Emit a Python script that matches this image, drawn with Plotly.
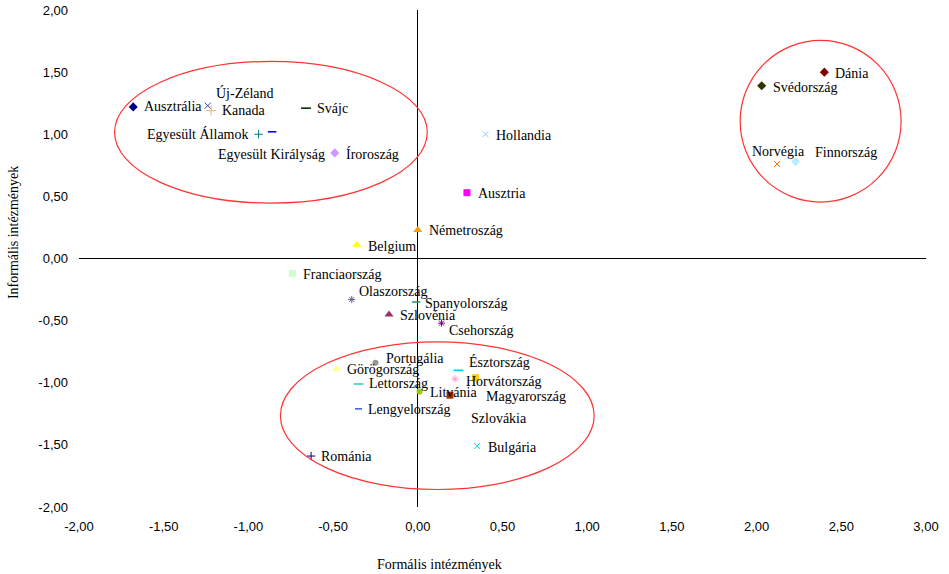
import plotly.graph_objects as go

# ---- data ----
countries = ["Ausztrália", "Új-Zéland", "Kanada", "Svájc", "Egyesült Államok",
             "Egyesült Királyság", "Íroroszág", "Dánia", "Svédország", "Norvégia",
             "Finnország", "Hollandia", "Ausztria", "Németroszág", "Belgium",
             "Franciaország", "Olaszország", "Spanyolország", "Szlovénia", "Csehország",
             "Portugália", "Görögország", "Lettország", "Litvánia", "Lengyelország",
             "Románia", "Észtország", "Horvátország", "Szlovákia", "Magyarország",
             "Bulgária"]
formal = [-1.68, -1.24, -1.22, -0.66, -0.94,
          -0.86, -0.49, 2.40, 2.03, 2.12,
          2.23, 0.40, 0.29, 0.00, -0.36,
          -0.74, -0.39, -0.01, -0.17, 0.14,
          -0.25, -0.48, -0.35, 0.01, -0.35,
          -0.63, 0.24, 0.22, 0.34, 0.19,
          0.35]
informal = [1.22, 1.23, 1.19, 1.21, 1.00,
            1.02, 0.85, 1.50, 1.39, 0.76,
            0.78, 1.00, 0.53, 0.23, 0.11,
            -0.12, -0.33, -0.35, -0.45, -0.52,
            -0.84, -0.89, -1.01, -1.07, -1.21,
            -1.59, -0.90, -0.97, -0.96, -1.10,
            -1.51]
x_ticks = [-2.0, -1.5, -1.0, -0.5, 0.0, 0.5, 1.0, 1.5, 2.0, 2.5, 3.0]
y_ticks = [-2.0, -1.5, -1.0, -0.5, 0.0, 0.5, 1.0, 1.5, 2.0]
x_title = "Formális intézmények"
y_title = "Informális intézmények"


def fmt(v):
    return f"{v:.2f}".replace(".", ",")


x_ticktext = [fmt(v) for v in x_ticks]
y_ticktext = [fmt(v) for v in y_ticks]

# ---- styles: symbol, colour, size ----
styles = {
    "Ausztrália": ("diamond", "#000080", 7),
    "Új-Zéland": ("x-thin-open", "#4040a0", 6),
    "Kanada": ("cross-thin-open", "#f0b070", 7),
    "Svájc": ("line-ew-open", "#003300", 7),
    "Egyesült Államok": ("cross-thin-open", "#008080", 6),
    "Egyesült Királyság": ("line-ew-open", "#0000ff", 6),
    "Íroroszág": ("diamond", "#cc99ff", 7),
    "Dánia": ("diamond", "#800000", 7),
    "Svédország": ("diamond", "#333300", 7),
    "Norvégia": ("x-thin-open", "#ff6600", 6),
    "Finnország": ("diamond", "#b8eeff", 7),
    "Hollandia": ("x-thin-open", "#99ccff", 6),
    "Ausztria": ("square", "#ff00ff", 7),
    "Németroszág": ("triangle-up", "#ff9900", 8),
    "Belgium": ("triangle-up", "#ffff00", 8),
    "Franciaország": ("square", "#ccffcc", 7),
    "Olaszország": ("asterisk-open", "#666699", 6),
    "Spanyolország": ("line-ew-open", "#339966", 6),
    "Szlovénia": ("triangle-up", "#993366", 8),
    "Csehország": ("asterisk-open", "#800080", 6),
    "Portugália": ("circle", "#969696", 6),
    "Görögország": ("triangle-up", "#ffff99", 8),
    "Lettország": ("line-ew-open", "#33cccc", 7),
    "Litvánia": ("circle", "#99cc00", 6),
    "Lengyelország": ("line-ew-open", "#3366ff", 5),
    "Románia": ("cross-thin-open", "#000080", 6),
    "Észtország": ("line-ew-open", "#00ccff", 7),
    "Horvátország": ("asterisk-open", "#ff99cc", 6),
    "Szlovákia": ("square", "#ffcc00", 7),
    "Magyarország": ("square", "#993300", 7),
    "Bulgária": ("x-thin-open", "#00e0e0", 6),
}

# label offsets in pixels: (dx, dy, xanchor), dy positive = downwards
label_pos = {
    "Ausztrália": (9, 0, "left"),
    "Új-Zéland": (6, -13, "left"),
    "Kanada": (9, 0, "left"),
    "Svájc": (9, 0, "left"),
    "Egyesült Államok": (-8, 0, "right"),
    "Egyesült Királyság": (-1, 23, "center"),
    "Íroroszág": (9, 1, "left"),
    "Dánia": (9, 1, "left"),
    "Svédország": (9, 2, "left"),
    "Norvégia": (2, -13, "center"),
    "Finnország": (17, -9, "left"),
    "Hollandia": (8, 1, "left"),
    "Ausztria": (9, 1, "left"),
    "Németroszág": (9, 1, "left"),
    "Belgium": (9, 2, "left"),
    "Franciaország": (9, 1, "left"),
    "Olaszország": (5, -8, "left"),
    "Spanyolország": (7, 2, "left"),
    "Szlovénia": (9, 1, "left"),
    "Csehország": (5, 7, "left"),
    "Portugália": (9, -4, "left"),
    "Görögország": (9, 0, "left"),
    "Lettország": (8, 0, "left"),
    "Litvánia": (9, 1, "left"),
    "Lengyelország": (7, 1, "left"),
    "Románia": (8, 0, "left"),
    "Észtország": (9, -8, "left"),
    "Horvátország": (9, 2, "left"),
    "Szlovákia": (-6, 41, "left"),
    "Magyarország": (34, 1, "left"),
    "Bulgária": (9, 1, "left"),
}

# ellipses (data units): x0, x1, y0, y1
ellipses = [(-1.79, 0.056, 0.446, 1.586),
            (1.903, 2.853, 0.454, 1.755),
            (-0.811, 1.041, -1.859, -0.671)]

serif = "Liberation Serif"
sans = "Liberation Sans"

fig = go.Figure()
annotations = []
for name, xv, yv in zip(countries, formal, informal):
    sym, col, size = styles[name]
    if sym.endswith("-open"):
        marker = dict(symbol=sym, size=size, color=col,
                      line=dict(color=col, width=1.6 if sym == "line-ew-open" else 1))
    else:
        marker = dict(symbol=sym, size=size, color=col, line=dict(width=0))
    fig.add_trace(go.Scatter(x=[xv], y=[yv], mode="markers", name=name,
                             marker=marker, showlegend=False, cliponaxis=False))
    dx, dy, anchor = label_pos[name]
    annotations.append(dict(x=xv, y=yv, xref="x", yref="y", text=name,
                            showarrow=False, xanchor=anchor, yanchor="middle",
                            xshift=dx, yshift=-dy,
                            font=dict(family=serif, size=14, color="black")))

shapes = []
for x0, x1, y0, y1 in ellipses:
    shapes.append(dict(type="circle", xref="x", yref="y", x0=x0, x1=x1, y0=y0, y1=y1,
                       line=dict(color="#ff3333", width=1.2), layer="above"))

annotations.append(dict(text=x_title, xref="paper", yref="paper",
                        x=(440 - 79) / 847.5, y=(507.5 - 565) / 498,
                        showarrow=False, xanchor="center", yanchor="middle",
                        font=dict(family=serif, size=14, color="black")))
annotations.append(dict(text=y_title, xref="paper", yref="paper",
                        x=(13 - 79) / 847.5, y=(507.5 - 233) / 498, textangle=-90,
                        showarrow=False, xanchor="center", yanchor="middle",
                        font=dict(family=serif, size=14, color="black")))

fig.update_layout(
    width=949, height=574,
    margin=dict(l=79, r=22.5, t=9.5, b=66.5, autoexpand=False),
    paper_bgcolor="white", plot_bgcolor="white",
    shapes=shapes, annotations=annotations,
    xaxis=dict(range=[-2, 3], tickvals=x_ticks, ticktext=x_ticktext,
               showgrid=False, showline=False, ticks="", automargin=False,
               zeroline=True, zerolinecolor="black", zerolinewidth=1,
               tickfont=dict(family=sans, size=13, color="black"),
               ticklabelstandoff=10, fixedrange=True),
    yaxis=dict(range=[-2, 2], tickvals=y_ticks, ticktext=y_ticktext,
               showgrid=False, showline=False, ticks="", automargin=False,
               zeroline=True, zerolinecolor="black", zerolinewidth=1,
               tickfont=dict(family=sans, size=13, color="black"),
               ticklabelstandoff=10, fixedrange=True),
)

fig.write_html("out.html")
